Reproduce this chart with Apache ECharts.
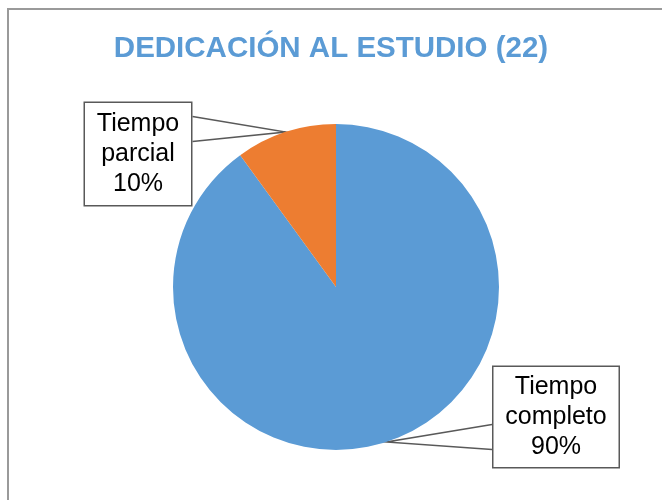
<!DOCTYPE html>
<html>
<head>
<meta charset="utf-8">
<script src="https://cdn.jsdelivr.net/npm/echarts@6/dist/echarts.min.js"></script>
<style>
  html, body { margin: 0; padding: 0; background: #fff; overflow: hidden; }
  #frame { position: absolute; left: 7px; top: 8px; width: 700px; height: 600px; border: 2px solid #9a9a9a; box-sizing: border-box; }
  #main { position: absolute; left: 0; top: 0; width: 662px; height: 500px; }
</style>
</head>
<body>
<div id="frame"></div>
<div id="main"></div>
<script>
  // datos
  const categories = ["Tiempo completo", "Tiempo parcial"];
  const values = [90, 10];
  const colors = ["#5B9BD5", "#ED7D31"];
  const titleText = "DEDICACIÓN AL ESTUDIO (22)";

  // label box centers
  const boxPos = [
    { x: 556, y: 417 },
    { x: 138, y: 154 },
  ];

  const chart = echarts.init(document.getElementById("main"));

  chart.setOption({
    backgroundColor: "transparent",
    animation: false,
    title: {
      text: titleText,
      left: "center",
      top: 29,
      textStyle: {
        color: "#5B9BD5",
        fontSize: 29.5,
        fontWeight: "bold",
        fontFamily: "'Liberation Sans', Arial, sans-serif",
      },
    },
    series: [
      {
        type: "pie",
        center: [336, 287],
        radius: 163,
        startAngle: 90,
        clockwise: true,
        data: categories.map((c, i) => ({
          name: c,
          value: values[i],
          itemStyle: { color: colors[i] },
          label: i === 0 ? { width: 119, padding: [5, 3] } : { width: 100, padding: [6, 3] },
        })),
        label: {
          show: true,
          position: "outside",
          formatter: (p) => p.name.replace(" ", "\n") + "\n" + Math.round(p.percent) + "%",
          fontFamily: "'Liberation Sans', Arial, sans-serif",
          fontSize: 25,
          lineHeight: 30,
          color: "#000",
          align: "center",
          backgroundColor: "#fff",
          borderColor: "#595959",
          borderWidth: 1.5,
        },
        labelLine: {
          show: true,
          lineStyle: { color: "#595959", width: 1.5 },
        },
        labelLayout: (params) => {
          const pos = boxPos[params.dataIndex];
          const w = params.labelRect.width;
          const h = params.labelRect.height;
          const anchor = params.labelLinePoints ? params.labelLinePoints[0] : null;
          const out = { x: pos.x, y: pos.y, align: "center", verticalAlign: "middle" };
          if (anchor) {
            const left = anchor[0] < pos.x;
            const edgeX = left ? pos.x - w / 2 : pos.x + w / 2;
            const top = pos.y - h / 2;
            const y1 = left ? top + 59 : top + 15;
            const y2 = left ? top + 84 : top + 40;
            out.labelLinePoints = [[edgeX, y1], anchor, [edgeX, y2]];
          }
          return out;
        },
      },
    ],
  });
</script>
</body>
</html>
